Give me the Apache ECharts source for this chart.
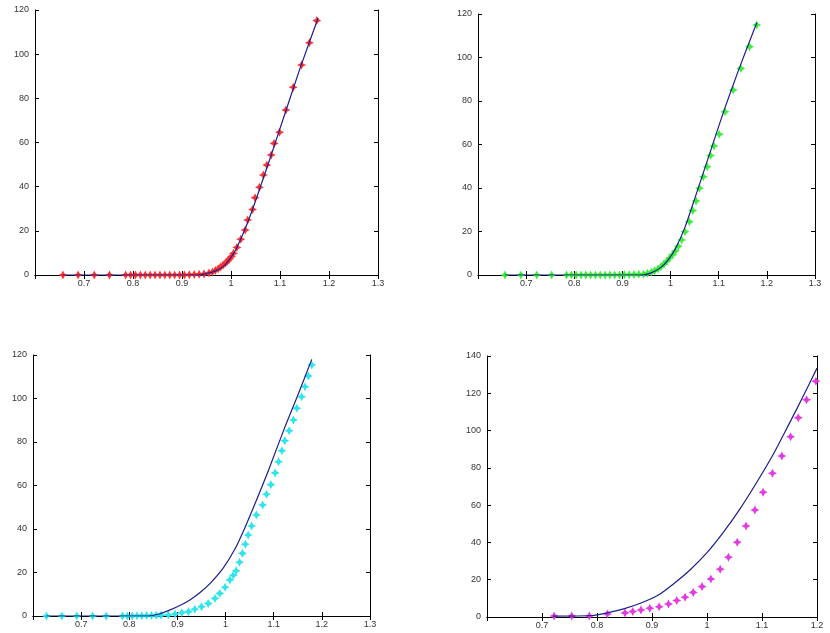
<!DOCTYPE html>
<html>
<head>
<meta charset="utf-8">
<script src="https://cdn.jsdelivr.net/npm/echarts@6/dist/echarts.min.js"></script>
<style>
  html, body { margin: 0; padding: 0; background: #fff; }
  #chart { width: 830px; height: 633px; }
</style>
</head>
<body>
<div id="chart"></div>
<script>
// ---- data ----

// panel 1 (red markers)
const p1LineX = [0.656, 0.93, 0.95, 0.97, 0.985, 1.0, 1.012, 1.03, 1.05, 1.08, 1.11, 1.14, 1.178];
const p1LineY = [0, 0, 0.6, 2, 4, 8, 12.5, 21.5, 33.5, 53, 73, 93, 116.5];
const p1X = [0.657, 0.688, 0.721, 0.752, 0.785, 0.795, 0.805, 0.815, 0.825, 0.835, 0.845, 0.855, 0.865, 0.875, 0.885, 0.895, 0.905, 0.915, 0.925, 0.935, 0.945, 0.955, 0.962, 0.968, 0.974, 0.979, 0.984, 0.989, 0.993, 0.997, 1.001, 1.005, 1.012, 1.020, 1.029, 1.034, 1.044, 1.049, 1.058, 1.066, 1.073, 1.082, 1.088, 1.099, 1.112, 1.127, 1.144, 1.160, 1.175];
const p1Y = [0, 0, 0, 0, 0, 0, 0, 0, 0, 0, 0, 0, 0, 0, 0, 0, 0, 0.1, 0.2, 0.3, 0.5, 0.9, 1.4, 2, 2.8, 3.6, 4.5, 5.4, 6.3, 7.3, 8.4, 9.8, 12.5, 16.2, 20.4, 24.9, 29.7, 35, 39.7, 45.3, 49.8, 54.3, 59.6, 64.6, 74.7, 85, 95.1, 105.2, 115.2];

// panel 2 (green markers)
const p2LineX = [0.656, 0.94, 0.96, 0.98, 0.995, 1.01, 1.03, 1.05, 1.08, 1.11, 1.14, 1.179];
const p2LineY = [0, 0, 1, 3.5, 7, 12, 22, 35, 55, 75, 93.5, 116];
const p2X = [0.656, 0.689, 0.722, 0.753, 0.784, 0.794, 0.804, 0.814, 0.824, 0.834, 0.844, 0.854, 0.864, 0.874, 0.884, 0.894, 0.904, 0.914, 0.924, 0.934, 0.944, 0.952, 0.96, 0.967, 0.974, 0.98, 0.986, 0.992, 0.998, 1.004, 1.010, 1.016, 1.023, 1.030, 1.039, 1.046, 1.053, 1.060, 1.068, 1.076, 1.083, 1.090, 1.101, 1.113, 1.130, 1.146, 1.164, 1.179];
const p2Y = [0, 0, 0, 0, 0, 0, 0, 0, 0, 0, 0, 0, 0, 0, 0, 0, 0.1, 0.1, 0.2, 0.3, 0.4, 0.8, 1.3, 2, 2.8, 3.8, 5, 6.3, 7.8, 9.3, 11, 13.2, 16.1, 19.9, 24.5, 29.6, 34, 39.9, 45.2, 49.8, 54.9, 59.3, 64.7, 75.1, 85.1, 95, 105, 114.9];

// panel 3 (cyan markers)
const p3LineX = [0.628, 0.84, 0.86, 0.885, 0.905, 0.926, 0.947, 0.968, 0.995, 1.02, 1.04, 1.06, 1.09, 1.12, 1.15, 1.179];
const p3LineY = [0, 0, 0.8, 2.8, 4.8, 7.4, 10.8, 15, 22, 31, 40.5, 51, 67.5, 85, 101.5, 118];
const p3X = [0.628, 0.660, 0.691, 0.724, 0.752, 0.786, 0.796, 0.806, 0.816, 0.826, 0.836, 0.846, 0.856, 0.866, 0.881, 0.895, 0.909, 0.923, 0.936, 0.950, 0.964, 0.978, 0.988, 0.999, 1.009, 1.016, 1.022, 1.029, 1.035, 1.041, 1.047, 1.054, 1.064, 1.077, 1.085, 1.094, 1.103, 1.110, 1.117, 1.123, 1.132, 1.141, 1.148, 1.158, 1.165, 1.172, 1.179];
const p3Y = [0, 0, 0, 0, 0, 0, 0, 0, 0.1, 0.1, 0.2, 0.2, 0.3, 0.4, 0.5, 0.9, 1.5, 2, 3.1, 4.3, 5.8, 8.1, 10.4, 13.2, 16.6, 18.7, 20.8, 24.7, 28.8, 33, 37.2, 41.4, 46.4, 51, 56, 60.4, 65.8, 70.9, 76, 80.6, 85.2, 90.1, 95.5, 100.8, 105.4, 110.3, 115.4];

// panel 4 (magenta markers)
const p4LineX = [0.72, 0.79, 0.82, 0.85, 0.88, 0.91, 0.94, 0.97, 1.0, 1.03, 1.06, 1.09, 1.12, 1.15, 1.175, 1.2];
const p4LineY = [0.5, 0.8, 2.3, 4.5, 7.5, 11.5, 18, 25.5, 34.5, 45.5, 58, 72, 87, 104, 118.5, 133.5];
const p4X = [0.722, 0.754, 0.786, 0.819, 0.851, 0.865, 0.880, 0.896, 0.913, 0.930, 0.945, 0.960, 0.975, 0.991, 1.007, 1.024, 1.039, 1.055, 1.071, 1.087, 1.102, 1.119, 1.136, 1.152, 1.166, 1.181, 1.198];
const p4Y = [0.5, 0.5, 0.5, 1.6, 2.2, 3, 3.8, 4.7, 5.5, 7, 8.8, 10.6, 13.2, 16.3, 20.4, 25.6, 32, 40.1, 48.8, 57.4, 66.9, 77.1, 86.4, 96.7, 106.9, 116.5, 126.5];

const xTicks = [0.6, 0.7, 0.8, 0.9, 1, 1.1, 1.2, 1.3];
const yTicks = [0, 20, 40, 60, 80, 100, 120, 140];

// ---- layout ----
const panels = [
    { box: { left: 35, top: 10, width: 343, height: 265 }, xMax: 1.3, yMax: 120, color: '#ff2a2a', lx: p1LineX, ly: p1LineY, mx: p1X, my: p1Y, smooth: 0.2 },
    { box: { left: 478, top: 14, width: 337, height: 261 }, xMax: 1.3, yMax: 120, color: '#33ee33', lx: p2LineX, ly: p2LineY, mx: p2X, my: p2Y, smooth: 0.2 },
    { box: { left: 33, top: 355, width: 337, height: 261 }, xMax: 1.3, yMax: 120, color: '#22e4ea', lx: p3LineX, ly: p3LineY, mx: p3X, my: p3Y, smooth: 0.3 },
    { box: { left: 487, top: 356, width: 330, height: 261 }, xMax: 1.2, yMax: 140, color: '#e030e0', lx: p4LineX, ly: p4LineY, mx: p4X, my: p4Y, smooth: 0.3 }
];

const zip = (a, b) => a.map((v, i) => [v, b[i]]);
const star = 'path://M0,-5 L1.7,-1.7 L5,0 L1.7,1.7 L0,5 L-1.7,1.7 L-5,0 L-1.7,-1.7 Z';

const grid = [], xAxis = [], yAxis = [], series = [];

const axisLine = { show: true, lineStyle: { color: '#000', width: 1 } };
const tick = { show: true, inside: true, length: 4, lineStyle: { color: '#000' } };
const lbl = { color: '#333', fontSize: 9, fontFamily: 'Liberation Sans, Arial, sans-serif' };

panels.forEach((p, i) => {
    grid.push(Object.assign({ show: false }, p.box));
    const xBase = { type: 'value', gridIndex: i, min: 0.6, max: p.xMax, interval: 0.1, splitLine: { show: false }, axisLine, axisTick: tick };
    const yBase = { type: 'value', gridIndex: i, min: 0, max: p.yMax, interval: 20, splitLine: { show: false }, axisLine, axisTick: tick };
    xAxis.push(Object.assign({}, xBase, {
        position: 'bottom',
        axisLabel: Object.assign({ margin: 4, showMinLabel: false,
            formatter: v => xTicks.find(t => Math.abs(t - v) < 1e-6) + '' }, lbl)
    }));
    xAxis.push(Object.assign({}, xBase, { position: 'top', axisLabel: { show: false } }));
    yAxis.push(Object.assign({}, yBase, {
        position: 'left',
        axisLabel: Object.assign({ margin: 6,
            formatter: v => yTicks.find(t => Math.abs(t - v) < 1e-6) + '' }, lbl)
    }));
    yAxis.push(Object.assign({}, yBase, { position: 'right', axisLabel: { show: false } }));

    series.push({
        type: 'scatter', xAxisIndex: 2 * i, yAxisIndex: 2 * i,
        symbol: star, symbolSize: 9,
        itemStyle: { color: p.color, opacity: 0.95 },
        data: zip(p.mx, p.my), z: 2
    });
    series.push({
        type: 'line', xAxisIndex: 2 * i, yAxisIndex: 2 * i,
        showSymbol: false, smooth: p.smooth,
        lineStyle: { color: '#1e1e90', width: 1.2 },
        data: zip(p.lx, p.ly), z: 3
    });
});

const chart = echarts.init(document.getElementById('chart'), null, { renderer: 'canvas' });
chart.setOption({ animation: false, backgroundColor: '#fff', grid, xAxis, yAxis, series });
</script>
</body>
</html>
